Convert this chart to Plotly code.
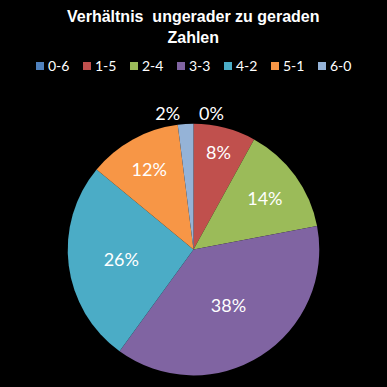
import plotly.graph_objects as go

labels = ["0-6", "1-5", "2-4", "3-3", "4-2", "5-1", "6-0"]
values = [0, 8, 14, 38, 26, 12, 2]
colors = ["#4F81BD", "#C0504D", "#9BBB59", "#8064A2", "#4BACC6", "#F79646", "#95B3D7"]
positions = ["outside", "inside", "inside", "inside", "inside", "inside", "outside"]

W = H = 387

fig = go.Figure(go.Pie(
    labels=labels,
    values=values,
    sort=False,
    direction="clockwise",
    rotation=0,
    marker=dict(colors=colors, line=dict(color="rgba(0,0,0,0)", width=0)),
    texttemplate="%{percent:.0%}",
    textposition=positions,
    insidetextorientation="horizontal",
    textfont=dict(color="white", size=18, family="Lato"),
    outsidetextfont=dict(color="white", size=18, family="Lato"),
    domain=dict(x=[0.1, 0.9], y=[0.03, 0.68]),
    showlegend=False,
))

# Custom compact legend (matches the reference's tight spacing)
annotations = [dict(
    text="<b>Verhältnis  ungerader zu geraden<br>Zahlen</b>",
    x=0.5, xref="paper", xanchor="center",
    y=0.985, yref="paper", yanchor="top",
    showarrow=False, align="center",
    font=dict(color="white", size=16, family="Liberation Sans"),
)]
shapes = []
leg_x0, leg_step, leg_y, sq = 36, 47, 66, 8
for i, (lab, col) in enumerate(zip(labels, colors)):
    px = leg_x0 + i * leg_step
    shapes.append(dict(
        type="rect", xref="paper", yref="paper",
        x0=px / W, x1=(px + sq) / W,
        y0=1 - (leg_y + sq / 2) / H, y1=1 - (leg_y - sq / 2) / H,
        fillcolor=col, line=dict(width=0),
    ))
    annotations.append(dict(
        text=lab, x=(px + sq + 2) / W, xref="paper", xanchor="left",
        y=1 - leg_y / H, yref="paper", yanchor="middle",
        showarrow=False, font=dict(color="white", size=14, family="Lato"),
    ))

fig.update_layout(
    width=W, height=H,
    paper_bgcolor="black", plot_bgcolor="black",
    margin=dict(l=0, r=0, t=0, b=0),
    annotations=annotations,
    shapes=shapes,
    showlegend=False,
)

fig.write_html("out.html")
